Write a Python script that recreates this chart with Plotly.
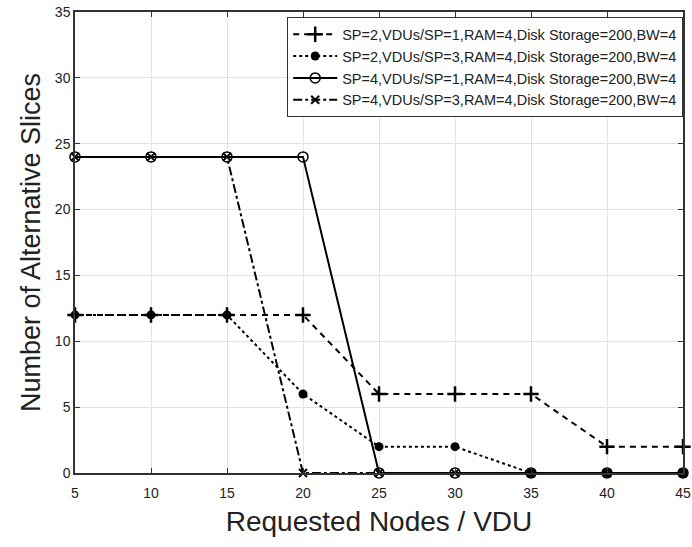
import plotly.graph_objects as go

x_nodes = [5, 10, 15, 20, 25, 30, 35, 40, 45]
sp2_vdu1 = [12, 12, 12, 12, 6, 6, 6, 2, 2]
sp2_vdu3 = [12, 12, 12, 6, 2, 2, 0, 0, 0]
sp4_vdu1 = [24, 24, 24, 24, 0, 0, 0, 0, 0]
sp4_vdu3 = [24, 24, 24, 0, 0, 0, 0, 0, 0]
names = [
    "SP=2,VDUs/SP=1,RAM=4,Disk Storage=200,BW=4",
    "SP=2,VDUs/SP=3,RAM=4,Disk Storage=200,BW=4",
    "SP=4,VDUs/SP=1,RAM=4,Disk Storage=200,BW=4",
    "SP=4,VDUs/SP=3,RAM=4,Disk Storage=200,BW=4",
]
x_ticks = [5, 10, 15, 20, 25, 30, 35, 40, 45]
y_ticks = [0, 5, 10, 15, 20, 25, 30, 35]

fig = go.Figure()
fig.add_trace(go.Scatter(x=x_nodes, y=sp2_vdu1, name=names[0], mode="lines+markers", cliponaxis=False,
                         line=dict(color="black", width=2, dash="6px,5px"),
                         marker=dict(symbol="cross-thin", size=11, line=dict(color="black", width=2.5))))
fig.add_trace(go.Scatter(x=x_nodes, y=sp2_vdu3, name=names[1], mode="lines+markers", cliponaxis=False,
                         line=dict(color="black", width=2, dash="dot"),
                         marker=dict(symbol="circle", size=9, color="black")))
fig.add_trace(go.Scatter(x=x_nodes, y=sp4_vdu1, name=names[2], mode="lines+markers", cliponaxis=False,
                         line=dict(color="black", width=2),
                         marker=dict(symbol="circle-open", size=10, line=dict(color="black", width=1.5))))
fig.add_trace(go.Scatter(x=x_nodes, y=sp4_vdu3, name=names[3], mode="lines+markers", cliponaxis=False,
                         line=dict(color="black", width=2, dash="dashdot"),
                         marker=dict(symbol="x-thin", size=8, line=dict(color="black", width=2))))

axis_common = dict(showline=True, linecolor="#333", linewidth=1.5, mirror="ticks",
                   ticks="inside", ticklen=5, tickcolor="#333", showgrid=True,
                   gridcolor="#e3e3e3", gridwidth=1.2, zeroline=False, automargin=False,
                   tickfont=dict(family="Liberation Sans, Arial", size=14, color="#222"))

fig.update_xaxes(range=[5, 45], tickvals=x_ticks, ticklabelstandoff=6,
                 title=dict(text="Requested Nodes / VDU", standoff=12,
                            font=dict(family="Liberation Sans, Arial", size=28, color="#222")),
                 **axis_common)
fig.update_yaxes(range=[0, 35], tickvals=y_ticks,
                 title=dict(text="Number of Alternative Slices", standoff=6,
                            font=dict(family="Liberation Sans, Arial", size=27, color="#222")),
                 **axis_common)

fig.update_layout(
    width=692, height=547,
    margin=dict(l=75, r=9, t=12, b=74),
    plot_bgcolor="white", paper_bgcolor="white",
    showlegend=True,
    legend=dict(x=1, y=0.989, xanchor="right", yanchor="top",
                bgcolor="white", bordercolor="#333", borderwidth=1.2,
                font=dict(family="Liberation Sans, Arial", size=14.5, color="#222"),
                tracegroupgap=0, itemwidth=44),
)

fig.write_html("out.html", config={"displayModeBar": False},
               post_script="document.body.style.margin='0';")
